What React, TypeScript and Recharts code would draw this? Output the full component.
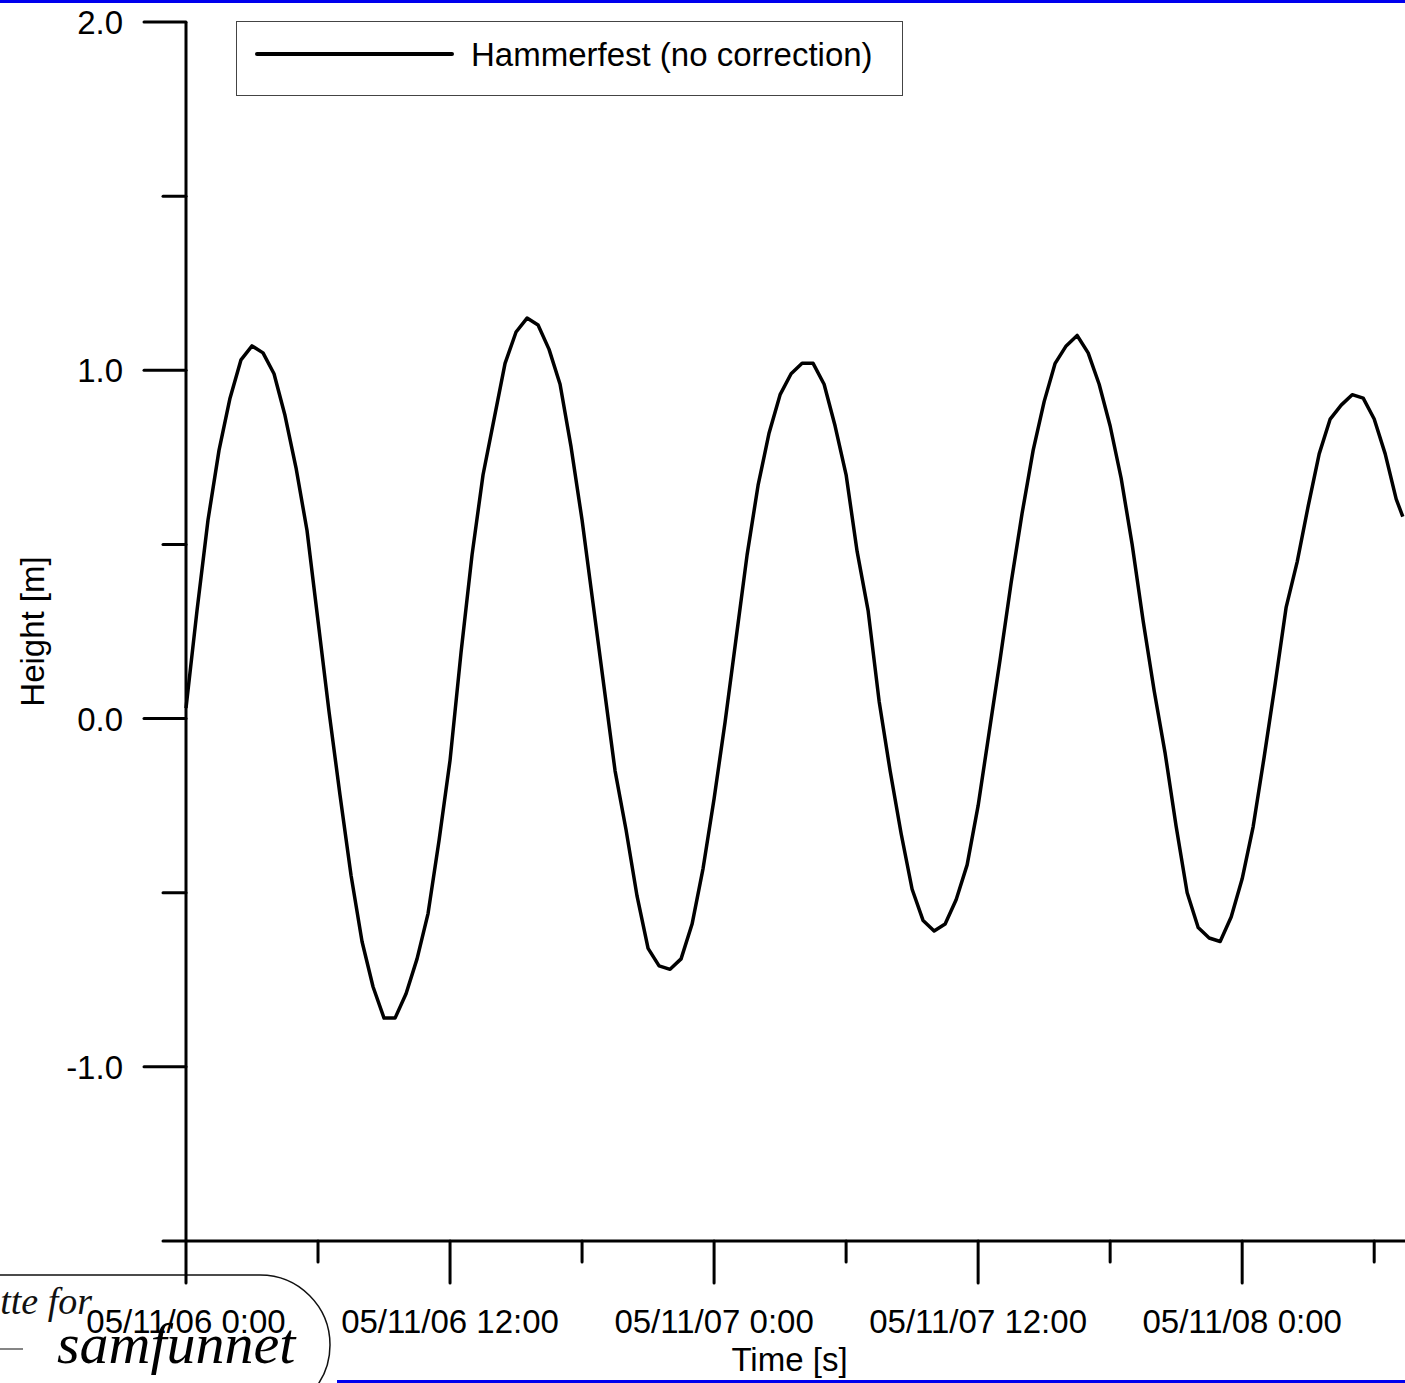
import { LineChart, Line, XAxis, YAxis, Label } from "recharts";

// hours since 05/11/06 0:00, half-hour samples
const hours = [
  0, 0.5, 1, 1.5, 2, 2.5, 3, 3.5, 4, 4.5, 5, 5.5, 6, 6.5, 7, 7.5, 8, 8.5, 9, 9.5,
  10, 10.5, 11, 11.5, 12, 12.5, 13, 13.5, 14, 14.5, 15, 15.5, 16, 16.5, 17, 17.5, 18, 18.5, 19, 19.5,
  20, 20.5, 21, 21.5, 22, 22.5, 23, 23.5, 24, 24.5, 25, 25.5, 26, 26.5, 27, 27.5, 28, 28.5, 29, 29.5,
  30, 30.5, 31, 31.5, 32, 32.5, 33, 33.5, 34, 34.5, 35, 35.5, 36, 36.5, 37, 37.5, 38, 38.5, 39, 39.5,
  40, 40.5, 41, 41.5, 42, 42.5, 43, 43.5, 44, 44.5, 45, 45.5, 46, 46.5, 47, 47.5, 48, 48.5, 49, 49.5,
  50, 50.5, 51, 51.5, 52, 52.5, 53, 53.5, 54, 54.5, 55, 55.3,
];

const heights = [
  0.03, 0.31, 0.57, 0.77, 0.92, 1.03, 1.07, 1.05, 0.99, 0.87, 0.72, 0.54, 0.28, 0.02, -0.22, -0.45, -0.64, -0.77, -0.86, -0.86,
  -0.79, -0.69, -0.56, -0.35, -0.12, 0.19, 0.47, 0.7, 0.86, 1.02, 1.11, 1.15, 1.13, 1.06, 0.96, 0.78, 0.57, 0.33, 0.09, -0.15,
  -0.32, -0.51, -0.66, -0.71, -0.72, -0.69, -0.59, -0.43, -0.23, -0.01, 0.23, 0.47, 0.67, 0.82, 0.93, 0.99, 1.02, 1.02, 0.96, 0.84,
  0.7, 0.48, 0.31, 0.05, -0.15, -0.33, -0.49, -0.58, -0.61, -0.59, -0.52, -0.42, -0.25, -0.04, 0.17, 0.39, 0.59, 0.77, 0.91, 1.02,
  1.07, 1.1, 1.05, 0.96, 0.84, 0.69, 0.5, 0.28, 0.08, -0.1, -0.31, -0.5, -0.6, -0.63, -0.64, -0.57, -0.46, -0.31, -0.11, 0.1,
  0.32, 0.45, 0.61, 0.76, 0.86, 0.9, 0.93, 0.92, 0.86, 0.76, 0.63, 0.58,
];

const xTicks = [0, 6, 12, 18, 24, 30, 36, 42, 48, 54];
const xLabels: Record<number, string> = {
  0: "05/11/06 0:00",
  12: "05/11/06 12:00",
  24: "05/11/07 0:00",
  36: "05/11/07 12:00",
  48: "05/11/08 0:00",
};
const yTicks = [-1.5, -1, -0.5, 0, 0.5, 1, 1.5, 2];

const data = hours.map((t, i) => ({ t, h: heights[i] }));

const FONT = "'Liberation Sans', Arial, sans-serif";
const FS = 33;

const XTick = ({ x, y, payload }: any) => {
  const lbl = xLabels[payload.value];
  return (
    <g>
      <line x1={x} x2={x} y1={y} y2={y + (lbl ? 42 : 21)} stroke="#000" strokeWidth={3} strokeLinecap="round" />
      {lbl && (
        <text x={x} y={y + 92} textAnchor="middle" fontFamily={FONT} fontSize={FS} fill="#000">{lbl}</text>
      )}
    </g>
  );
};

const YTick = ({ x, y, payload }: any) => {
  const major = Number.isInteger(payload.value);
  return (
    <g>
      <line x1={x - (major ? 42 : 23)} x2={x} y1={y} y2={y} stroke="#000" strokeWidth={3} strokeLinecap="round" />
      {major && (
        <text x={x - 63} y={y + 12} textAnchor="end" fontFamily={FONT} fontSize={FS} fill="#000">
          {payload.value.toFixed(1)}
        </text>
      )}
    </g>
  );
};

export default function App() {
  return (
    <div style={{ position: "absolute", left: 0, top: 0, width: 1405, height: 1383, overflow: "hidden", background: "#fff" }}>
      {/* logo + slide decoration behind the chart */}
      <svg width={1405} height={1383} style={{ position: "absolute", left: 0, top: 0 }}>
        <rect x={-100} y={1275} width={430} height={140} rx={70} fill="#fff" stroke="#111" strokeWidth={1.5} />
        <text x={92} y={1314} textAnchor="end" fontFamily="'Liberation Serif', serif" fontStyle="italic" fontSize={38} fill="#111">tte for</text>
        <text x={57} y={1363} fontFamily="'Liberation Serif', serif" fontStyle="italic" fontSize={58} fill="#000">samfunnet</text>
        <line x1={0} x2={23} y1={1349} y2={1349} stroke="#333" strokeWidth={1.2} />
        <rect x={0} y={0} width={1405} height={3} fill="#0000ee" />
        <rect x={337} y={1380} width={1068} height={3} fill="#0000ee" />
      </svg>

      <div style={{ position: "absolute", left: 0, top: 0 }}>
        <LineChart width={1405} height={1383} data={data} margin={{ top: 22, right: 0, bottom: 0, left: 0 }}>
          <XAxis
            dataKey="t"
            type="number"
            domain={[0, 55.4]}
            ticks={xTicks}
            height={142}
            tickSize={0}
            tickMargin={0}
            tickLine={false}
            axisLine={{ stroke: "#000", strokeWidth: 3 }}
            tick={<XTick />}
            interval={0}
          >
            <Label
              content={({ viewBox }: any) => (
                <text x={viewBox.x + viewBox.width / 2 - 6} y={1371} textAnchor="middle" fontFamily={FONT} fontSize={FS} fill="#000">
                  Time [s]
                </text>
              )}
            />
          </XAxis>
          <YAxis
            type="number"
            domain={[-1.5, 2]}
            ticks={yTicks}
            width={186}
            tickSize={0}
            tickMargin={0}
            tickLine={false}
            axisLine={{ stroke: "#000", strokeWidth: 3 }}
            tick={<YTick />}
            interval={0}
          >
            <Label
              content={({ viewBox }: any) => {
                const cy = viewBox.y + viewBox.height / 2;
                return (
                  <text x={44} y={cy} transform={`rotate(-90 44 ${cy})`} textAnchor="middle" fontFamily={FONT} fontSize={FS} fill="#000">
                    Height [m]
                  </text>
                );
              }}
            />
          </YAxis>
          <Line type="linear" dataKey="h" stroke="#000" strokeWidth={3.5} strokeLinejoin="round" dot={false} isAnimationActive={false} />
        </LineChart>
      </div>

      {/* legend */}
      <svg width={668} height={76} style={{ position: "absolute", left: 236, top: 21 }}>
        <rect x={0.5} y={0.5} width={666} height={74} fill="#fff" stroke="#444" strokeWidth={1} />
        <line x1={21} x2={216} y1={33} y2={33} stroke="#000" strokeWidth={4} strokeLinecap="round" />
        <text x={235} y={45} fontFamily={FONT} fontSize={FS} fill="#000">Hammerfest (no correction)</text>
      </svg>
    </div>
  );
}
